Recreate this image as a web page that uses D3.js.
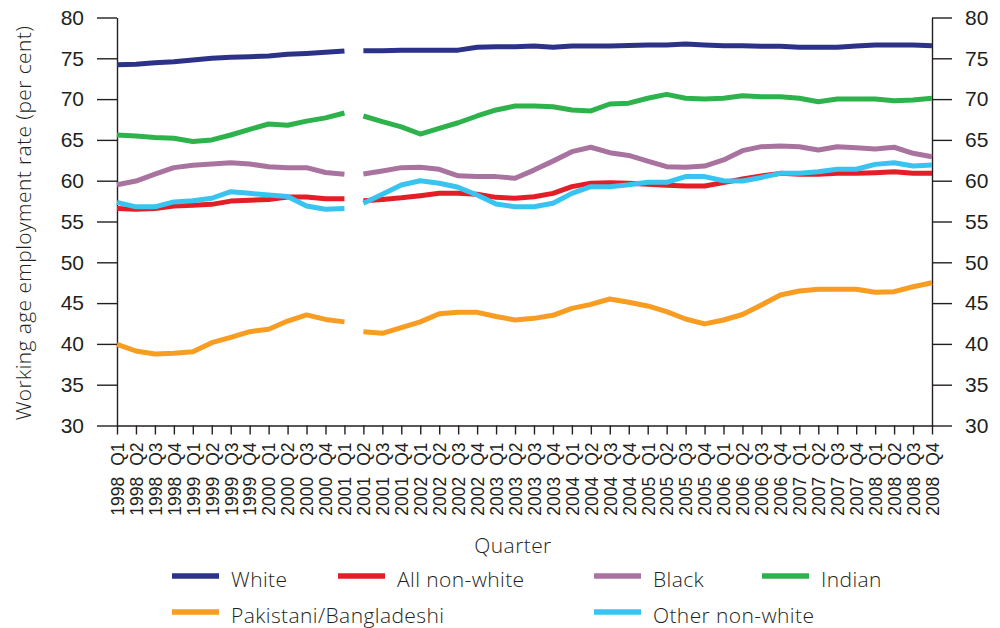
<!DOCTYPE html>
<html>
<head>
<meta charset="utf-8">
<script src="https://cdn.jsdelivr.net/npm/d3@7"></script>
<style>
  html, body { margin: 0; padding: 0; background: #fff; }
  svg { display: block; font-family: "Open Sans", "Liberation Sans", sans-serif; font-weight: 300; }
  .axis text { fill: #231f20; }
  .axis line, .axis path { stroke: #231f20; stroke-width: 1.4; }
  .label { letter-spacing: 0.4px; }
</style>
</head>
<body>
<svg id="chart" width="1000" height="628"></svg>
<script>
// Quarter labels along the horizontal axis
const quarters = [
  "1998 Q1","1998 Q2","1998 Q3","1998 Q4",
  "1999 Q1","1999 Q2","1999 Q3","1999 Q4",
  "2000 Q1","2000 Q2","2000 Q3","2000 Q4",
  "2001 Q1","2001 Q2","2001 Q3","2001 Q4",
  "2002 Q1","2002 Q2","2002 Q3","2002 Q4",
  "2003 Q1","2003 Q2","2003 Q3","2003 Q4",
  "2004 Q1","2004 Q2","2004 Q3","2004 Q4",
  "2005 Q1","2005 Q2","2005 Q3","2005 Q4",
  "2006 Q1","2006 Q2","2006 Q3","2006 Q4",
  "2007 Q1","2007 Q2","2007 Q3","2007 Q4",
  "2008 Q1","2008 Q2","2008 Q3","2008 Q4"
];

// Discontinuity in the survey series: lines break after this quarter
const breakAfter = "2001 Q1";

// Working age employment rates (per cent), one value per quarter
const white = [74.2,74.26,74.46,74.59,74.8,75.0,75.12,75.2,75.28,75.49,75.6,75.73,75.9,
  75.93,75.93,76.0,76.0,76.0,76.0,76.35,76.42,76.42,76.5,76.35,76.5,76.5,76.5,76.58,
  76.63,76.63,76.75,76.63,76.55,76.55,76.47,76.47,76.35,76.35,76.35,76.5,76.63,76.63,76.63,76.55];
const allNonWhite = [56.6,56.5,56.6,56.9,57.0,57.1,57.5,57.6,57.7,58.0,58.0,57.8,57.8,
  57.55,57.7,57.9,58.16,58.45,58.45,58.33,57.96,57.84,58.04,58.45,59.27,59.68,59.76,59.7,
  59.56,59.44,59.35,59.35,59.76,60.2,60.58,60.9,60.78,60.78,60.9,60.9,60.98,61.1,60.9,60.9];
const black = [59.5,59.96,60.8,61.6,61.9,62.05,62.2,62.05,61.7,61.6,61.6,61.0,60.8,
  60.82,61.2,61.6,61.64,61.4,60.6,60.5,60.5,60.3,61.3,62.4,63.56,64.1,63.43,63.1,
  62.4,61.72,61.64,61.8,62.54,63.68,64.17,64.25,64.17,63.76,64.17,64.05,63.88,64.1,63.36,62.94];
const indian = [65.6,65.48,65.3,65.2,64.8,65.0,65.6,66.3,66.95,66.8,67.3,67.7,68.3,
  67.93,67.23,66.6,65.72,66.42,67.1,67.93,68.67,69.15,69.15,69.07,68.67,68.55,69.4,69.5,
  70.1,70.58,70.1,70.0,70.1,70.42,70.3,70.3,70.1,69.68,70.0,70.0,70.0,69.8,69.9,70.1];
const pakistaniBangladeshi = [39.95,39.13,38.76,38.85,39.05,40.15,40.8,41.5,41.8,42.8,43.55,43.0,42.7,
  41.5,41.3,42.0,42.7,43.7,43.87,43.87,43.35,42.93,43.13,43.5,44.35,44.85,45.5,45.1,
  44.65,43.95,43.05,42.45,42.93,43.6,44.77,46.0,46.48,46.7,46.7,46.7,46.33,46.4,47.0,47.5];
const otherNonWhite = [57.35,56.8,56.8,57.4,57.55,57.85,58.65,58.45,58.25,58.05,56.9,56.5,56.6,
  57.23,58.33,59.47,60.0,59.68,59.19,58.25,57.14,56.8,56.8,57.23,58.45,59.27,59.27,59.5,
  59.8,59.8,60.5,60.5,60.0,59.96,60.4,60.9,60.9,61.1,61.4,61.4,62.0,62.2,61.8,61.93];

const seriesNames = ["White","All non-white","Black","Indian","Pakistani/Bangladeshi","Other non-white"];
const seriesValues = [white, allNonWhite, black, indian, pakistaniBangladeshi, otherNonWhite];
const seriesColors = ["#2b3288","#e31e26","#a9739f","#2eb24b","#f89c22","#37c4f0"];

const yTicks = [30,35,40,45,50,55,60,65,70,75,80];

const svg = d3.select("#chart");
const plotLeft = 117, plotRight = 932, plotTop = 17.5, plotBottom = 425.5;

const x = d3.scalePoint().domain(quarters).range([plotLeft, plotRight]);
const y = d3.scaleLinear().domain([30, 80]).range([plotBottom, plotTop]);

const textColor = "#231f20";

// Left value axis
const gLeft = svg.append("g").attr("class", "axis")
  .attr("transform", `translate(${plotLeft},0)`)
  .call(d3.axisLeft(y).tickValues(yTicks).tickSize(20).tickSizeOuter(0).tickPadding(13));
gLeft.selectAll("text").style("font-size", "21px");

// Right value axis
const gRight = svg.append("g").attr("class", "axis")
  .attr("transform", `translate(${plotRight},0)`)
  .call(d3.axisRight(y).tickValues(yTicks).tickSize(20).tickSizeOuter(0).tickPadding(13));
gRight.selectAll("text").style("font-size", "21px");

// Quarter axis with vertical labels
const gBottom = svg.append("g").attr("class", "axis")
  .attr("transform", `translate(0,${plotBottom})`)
  .call(d3.axisBottom(x).tickSize(9).tickSizeOuter(0));
gBottom.selectAll("text")
  .style("font-size", "17.5px")
  .style("word-spacing", "6px")
  .attr("text-anchor", "end")
  .attr("transform", "rotate(-90)")
  .attr("x", -17)
  .attr("y", 0)
  .attr("dy", "0.36em");
svg.selectAll(".axis path.domain").attr("fill", "none");

// Axis titles
svg.append("text")
  .attr("class", "label")
  .attr("transform", "translate(31,223) rotate(-90)")
  .attr("text-anchor", "middle")
  .attr("fill", textColor)
  .style("font-size", "21px")
  .text("Working age employment rate (per cent)");

svg.append("text")
  .attr("class", "label")
  .attr("x", 513).attr("y", 553)
  .attr("text-anchor", "middle")
  .attr("fill", textColor)
  .style("font-size", "21px")
  .text("Quarter");

// Series lines, drawn as two pieces either side of the break
const breakIndex = quarters.indexOf(breakAfter);
const line = d3.line()
  .x(d => x(d.q))
  .y(d => y(d.v));

seriesValues.forEach((vals, s) => {
  const pts = vals.map((v, i) => ({ q: quarters[i], v }));
  const pieces = [pts.slice(0, breakIndex + 1), pts.slice(breakIndex + 1)];
  pieces.forEach(p => {
    svg.append("path")
      .datum(p)
      .attr("d", line)
      .attr("fill", "none")
      .attr("stroke", seriesColors[s])
      .attr("stroke-width", 5)
      .attr("stroke-linejoin", "round")
      .attr("stroke-linecap", "butt");
  });
});

// Legend
const legendX = [172, 338, 594, 762, 172, 594];
const legendY = [576, 576, 576, 576, 612, 612];
seriesNames.forEach((name, s) => {
  const g = svg.append("g").attr("transform", `translate(${legendX[s]},${legendY[s]})`);
  g.append("line")
    .attr("x1", 0).attr("x2", 47).attr("y1", 0).attr("y2", 0)
    .attr("stroke", seriesColors[s]).attr("stroke-width", 5.5);
  g.append("text")
    .attr("class", "label")
    .attr("x", 59).attr("y", 10.5)
    .attr("fill", textColor)
    .style("font-size", "21px")
    .text(name);
});
</script>
</body>
</html>
